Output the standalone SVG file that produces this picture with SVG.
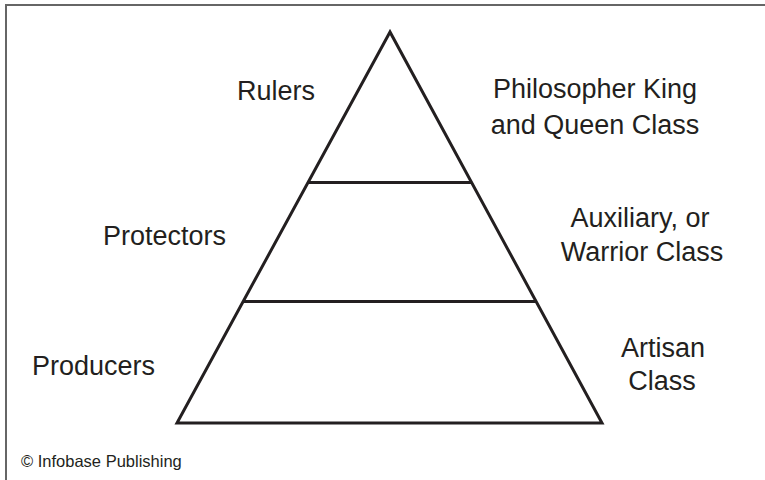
<svg xmlns="http://www.w3.org/2000/svg" width="765" height="480" viewBox="0 0 765 480">
  <style>
    .frame { stroke: #666666; stroke-width: 2; fill: none; }
    .tier { stroke: #231f20; stroke-width: 3; fill: #ffffff; stroke-linejoin: miter; }
    .divider { stroke: #231f20; stroke-width: 3; fill: none; }
    .label { font-family: "Liberation Sans", Arial, sans-serif; font-size: 27px; fill: #231f20; }
    .mid { text-anchor: middle; }
    .credit { font-family: "Liberation Sans", Arial, sans-serif; font-size: 16.5px; fill: #231f20; }
  </style>

  <rect width="765" height="480" fill="#ffffff"/>

  <!-- page frame: top and left rules only -->
  <path class="frame" d="M5 5 H765 M6 5 V480"/>

  <!-- pyramid outline -->
  <g id="pyramid">
    <polygon class="tier" points="390,32 177,423 602,423"/>
  </g>

  <!-- tier dividers -->
  <g id="connectors">
    <line class="divider" x1="308" y1="182.5" x2="472" y2="182.5"/>
    <line class="divider" x1="243" y1="301.5" x2="537" y2="301.5"/>
  </g>

  <!-- tier names, left side -->
  <g id="rulers">
    <text class="label" x="237" y="100">Rulers</text>
  </g>
  <g id="protectors">
    <text class="label" x="103" y="245">Protectors</text>
  </g>
  <g id="producers">
    <text class="label" x="32" y="375">Producers</text>
  </g>

  <!-- class names, right side -->
  <g id="philosopher-class">
    <text class="label mid" x="595" y="98">Philosopher King</text>
    <text class="label mid" x="595" y="134">and Queen Class</text>
  </g>
  <g id="auxiliary-class">
    <text class="label mid" x="640" y="227">Auxiliary, or</text>
    <text class="label mid" x="642" y="261">Warrior Class</text>
  </g>
  <g id="artisan-class">
    <text class="label mid" x="663" y="357">Artisan</text>
    <text class="label mid" x="662" y="390">Class</text>
  </g>

  <text class="credit" x="21" y="467">© Infobase Publishing</text>
</svg>
